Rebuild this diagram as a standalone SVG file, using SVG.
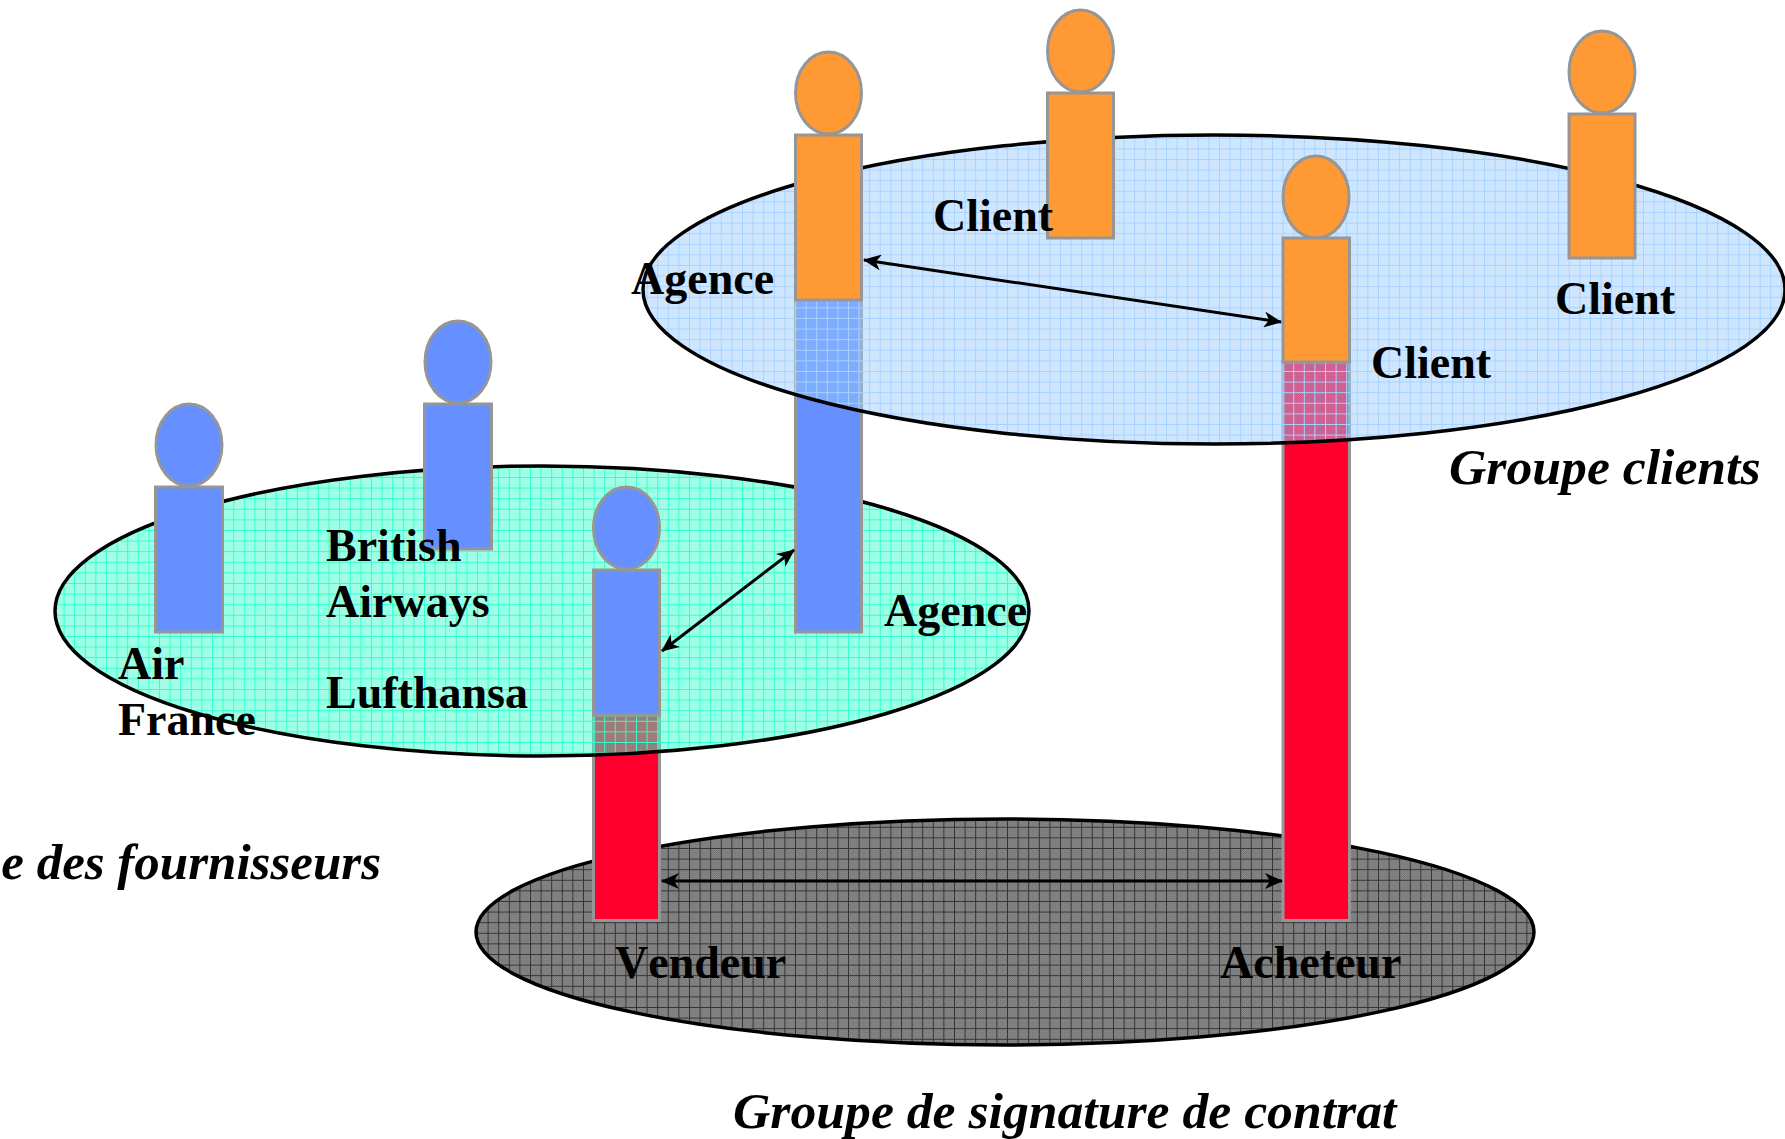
<svg xmlns="http://www.w3.org/2000/svg" width="1785" height="1139" viewBox="0 0 1785 1139">
<style>
.fig{stroke:#969696;stroke-width:3}
.b{fill:#6690ff}.o{fill:#ff9933}.r{fill:#ff002e}
.t{font-family:"Liberation Serif","Times New Roman",serif;font-weight:bold;font-size:46px;fill:#000}
.i{font-style:italic;font-size:51.7px}
.e{stroke:#000;stroke-width:3.5}
.c{stroke:#000;stroke-width:3;fill:none;marker-start:url(#a);marker-end:url(#a)}
</style>
<defs>
<marker id="a" viewBox="0 0 18 16" refX="17" refY="8" markerWidth="18" markerHeight="16" markerUnits="userSpaceOnUse" orient="auto-start-reverse"><path d="M0 0L18 8L0 16L5 8Z" fill="#000"/></marker>
<pattern id="fb" width="2" height="2" patternUnits="userSpaceOnUse"><rect width="2" height="2" fill="#99ccff" fill-opacity=".25"/><rect width="1" height="1" fill="#99ccff" fill-opacity=".6"/><rect x="1" y="1" width="1" height="1" fill="#99ccff" fill-opacity=".6"/></pattern>
<pattern id="pb" width="10.6" height="10.6" patternUnits="userSpaceOnUse"><rect width="10.6" height="10.6" fill="url(#fb)"/><path d="M0 .5H10.6M.5 0V10.6" stroke="#a8d2ff" stroke-width="1"/></pattern>
<pattern id="fg" width="2" height="2" patternUnits="userSpaceOnUse"><rect width="2" height="2" fill="#33ffcc" fill-opacity=".25"/><rect width="1" height="1" fill="#33ffcc" fill-opacity=".6"/><rect x="1" y="1" width="1" height="1" fill="#33ffcc" fill-opacity=".6"/></pattern>
<pattern id="pg" width="10.6" height="10.6" patternUnits="userSpaceOnUse"><rect width="10.6" height="10.6" fill="url(#fg)"/><path d="M0 .5H10.6M.5 0V10.6" stroke="#33ffcc" stroke-width="1"/></pattern>
<pattern id="fk" width="2" height="2" patternUnits="userSpaceOnUse"><rect width="2" height="2" fill="#9a9a9a"/><rect width="1" height="1" fill="#666"/><rect x="1" y="1" width="1" height="1" fill="#666"/></pattern>
<pattern id="pk" width="10.6" height="10.6" patternUnits="userSpaceOnUse"><rect width="10.6" height="10.6" fill="url(#fk)"/><path d="M0 .5H10.6M.5 0V10.6" stroke="#333" stroke-width="1"/></pattern>
</defs>
<g id="groupe-signature"><ellipse class="e" cx="1005" cy="932" rx="529" ry="113" fill="url(#pk)"/></g>
<g id="vendeur-bas"><rect class="fig r" x="593.500" y="715" width="66" height="205.500"/></g>
<g id="groupe-fournisseurs"><ellipse class="e" cx="542" cy="611" rx="487" ry="145" fill="url(#pg)"/></g>
<g id="air-france"><ellipse class="fig b" cx="189" cy="445" rx="33" ry="41"/><rect class="fig b" x="155.500" y="487" width="67" height="145"/></g>
<g id="lufthansa"><ellipse class="fig b" cx="458" cy="362" rx="33" ry="41"/><rect class="fig b" x="424.500" y="404" width="67" height="145"/></g>
<g id="vendeur"><ellipse class="fig b" cx="626.500" cy="528" rx="33" ry="41"/><rect class="fig b" x="593.500" y="570" width="66" height="145"/></g>
<g id="agence-fournisseur"><rect class="fig b" x="795.500" y="300" width="66" height="332"/></g>
<g id="acheteur-bas"><rect class="fig r" x="1283" y="362" width="66.500" height="558.500"/></g>
<g id="groupe-clients"><ellipse class="e" cx="1214" cy="289.500" rx="571" ry="154.500" fill="url(#pb)"/></g>
<g id="agence-client"><ellipse class="fig o" cx="828.500" cy="93" rx="33" ry="41"/><rect class="fig o" x="795.500" y="135" width="66" height="165"/></g>
<g id="client-1"><ellipse class="fig o" cx="1080.500" cy="51" rx="33" ry="41"/><rect class="fig o" x="1047.500" y="93" width="66" height="145"/></g>
<g id="client-2"><ellipse class="fig o" cx="1602" cy="72" rx="33" ry="41"/><rect class="fig o" x="1569" y="114" width="66" height="144"/></g>
<g id="client-3"><ellipse class="fig o" cx="1316" cy="197" rx="33" ry="41"/><rect class="fig o" x="1283" y="238" width="66.500" height="124"/></g>
<g id="connectors">
<line class="c" x1="864" y1="260" x2="1281" y2="322"/>
<line class="c" x1="662" y1="651" x2="794" y2="550"/>
<line class="c" x1="662" y1="881" x2="1282" y2="881"/>
</g>
<g id="labels">
<text class="t" x="933" y="231">Client</text>
<text class="t" x="631" y="294">Agence</text>
<text class="t" x="1555" y="314">Client</text>
<text class="t" x="1371" y="378">Client</text>
<text class="t i" x="1449" y="484">Groupe clients</text>
<text class="t" x="326" y="561">British</text>
<text class="t" x="326" y="617">Airways</text>
<text class="t" x="326" y="708">Lufthansa</text>
<text class="t" x="118" y="679">Air</text>
<text class="t" x="118" y="735">France</text>
<text class="t" x="884" y="626">Agence</text>
<text class="t i" x="381" y="879" text-anchor="end" style="font-size:51px">e des fournisseurs</text>
<text class="t" x="615" y="978" style="font-kerning:none">Vendeur</text>
<text class="t" x="1220" y="978">Acheteur</text>
<text class="t i" x="733" y="1128">Groupe de signature de contrat</text>
</g>
</svg>
